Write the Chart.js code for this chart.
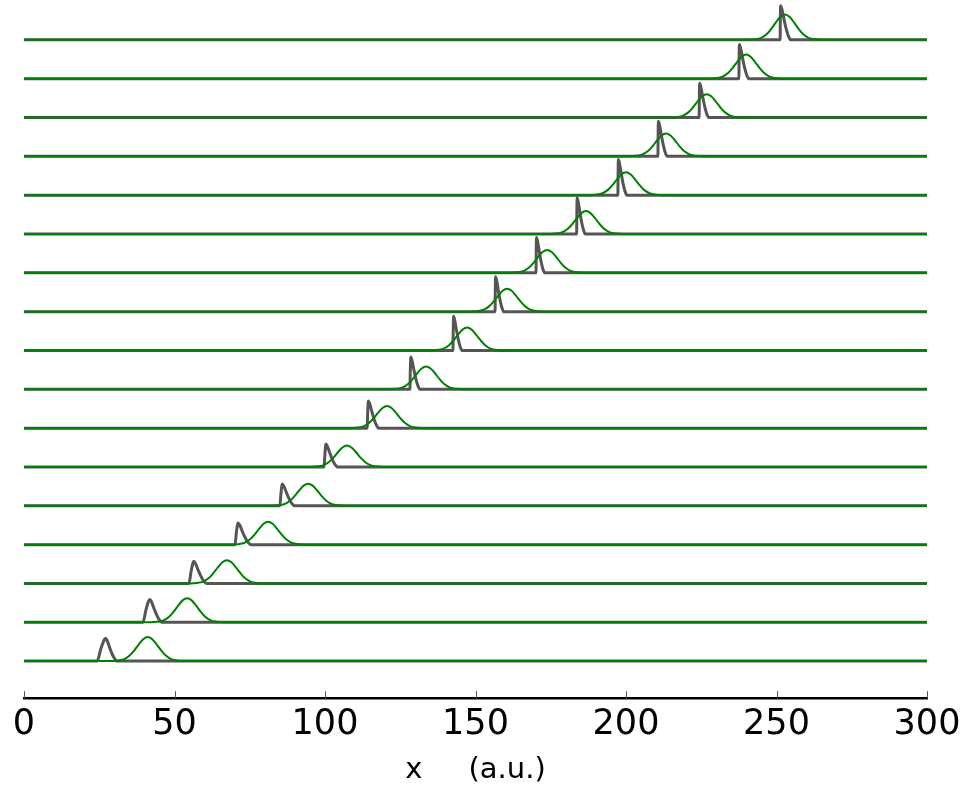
<!DOCTYPE html>
<html>
<head>
<meta charset="utf-8">
<script src="https://cdn.jsdelivr.net/npm/chart.js@4/dist/chart.umd.min.js"></script>
<style>
  body { margin: 0; background: #ffffff; }
  #wrap { width: 963px; height: 788px; }
</style>
</head>
<body>
<div id="wrap"><canvas id="traces" width="963" height="788"></canvas></div>
<script>
// Rows, bottom (0) to top (16); every row is shifted up by one unit
const rowOffsets = [0, 1, 2, 3, 4, 5, 6, 7, 8, 9, 10, 11, 12, 13, 14, 15, 16];

// Gray pulse: x where it leaves the baseline, height, rise and decay lengths (x units)
const grayStart = [24.3, 39.5, 54.8, 70.1, 85.0, 99.7, 114.0, 128.2, 142.5, 156.5, 170.1, 183.6, 197.3, 210.6, 224.3, 237.5, 251.2];
const grayHeight = [0.59, 0.59, 0.57, 0.56, 0.56, 0.59, 0.70, 0.83, 0.88, 0.90, 0.91, 0.93, 0.92, 0.90, 0.88, 0.88, 0.88];
const grayRise = [2.8, 2.3, 1.6, 1.0, 0.8, 0.6, 0.4, 0.3, 0.2, 0.15, 0.15, 0.15, 0.15, 0.15, 0.15, 0.15, 0.15];
const grayDecay = [3.8, 4.0, 4.2, 4.2, 4.0, 3.8, 3.4, 3.0, 2.8, 2.7, 2.7, 2.7, 2.8, 2.9, 3.0, 3.1, 3.3];

// Pulse profile (fraction of length, fraction of height)
const riseFrac = [0, 0.45, 0.8, 1];
const riseLevel = [0, 0.55, 0.9, 1];
const decayFrac = [0.15, 0.35, 0.55, 0.75, 0.9, 1];
const decayLevel = [0.88, 0.6, 0.34, 0.14, 0.04, 0];

// Green bump: centre and height per row
const greenCenter = [41.1, 54.2, 67.4, 81.1, 94.4, 107.3, 120.6, 133.6, 147.2, 160.5, 173.8, 186.7, 200.0, 213.3, 226.8, 239.9, 252.8];
const greenHeight = [0.62, 0.62, 0.60, 0.59, 0.57, 0.55, 0.57, 0.59, 0.59, 0.59, 0.59, 0.59, 0.59, 0.59, 0.60, 0.62, 0.65];

// Bump profile (x offset, fraction of height)
const bumpOffset = [-12, -10, -8, -6, -4.5, -3, -1.5, 0, 1.5, 3, 4.5, 6, 8, 10, 12];
const bumpLevel = [0, 0.02, 0.07, 0.23, 0.44, 0.69, 0.91, 1, 0.91, 0.69, 0.44, 0.23, 0.07, 0.02, 0];

const xTicks = [0, 50, 100, 150, 200, 250, 300];
const xTitle = 'x     (a.u.)';

function grayTrace(i) {
    const base = rowOffsets[i];
    const pts = [{ x: 0, y: base }];
    riseFrac.forEach((f, k) => {
        pts.push({ x: grayStart[i] + f * grayRise[i], y: base + riseLevel[k] * grayHeight[i] });
    });
    const peakX = grayStart[i] + grayRise[i];
    decayFrac.forEach((f, k) => {
        pts.push({ x: peakX + f * grayDecay[i], y: base + decayLevel[k] * grayHeight[i] });
    });
    pts.push({ x: 300, y: base });
    return pts;
}

function greenTrace(i) {
    const base = rowOffsets[i];
    const pts = [{ x: 0, y: base }];
    bumpOffset.forEach((d, k) => {
        pts.push({ x: greenCenter[i] + d, y: base + bumpLevel[k] * greenHeight[i] });
    });
    pts.push({ x: 300, y: base });
    return pts;
}

const datasets = [];
rowOffsets.forEach((off, i) => {
    datasets.push({
        data: greenTrace(i),
        borderColor: '#008000',
        borderWidth: 2,
        order: 0
    });
    datasets.push({
        data: grayTrace(i),
        borderColor: '#555555',
        borderWidth: 3,
        order: 1
    });
});

// Short tick marks pointing up from the x axis
const innerTicks = {
    id: 'innerTicks',
    afterDraw(chart) {
        const ctx = chart.ctx;
        const xs = chart.scales.x;
        const y0 = chart.chartArea.bottom;
        ctx.save();
        ctx.strokeStyle = '#555555';
        ctx.lineWidth = 1;
        xTicks.forEach(v => {
            const px = Math.round(xs.getPixelForValue(v)) + 0.5;
            ctx.beginPath();
            ctx.moveTo(px, y0);
            ctx.lineTo(px, y0 - 7);
            ctx.stroke();
        });
        ctx.restore();
    }
};

new Chart(document.getElementById('traces'), {
    type: 'line',
    data: { datasets: datasets },
    options: {
        responsive: false,
        animation: false,
        devicePixelRatio: 1,
        elements: {
            point: { radius: 0 },
            line: { cubicInterpolationMode: 'monotone', fill: false }
        },
        layout: { padding: { left: 24, right: 36, top: 1, bottom: 0 } },
        plugins: {
            legend: { display: false },
            tooltip: { enabled: false }
        },
        scales: {
            x: {
                type: 'linear',
                min: 0,
                max: 300,
                afterBuildTicks: axis => { axis.ticks = xTicks.map(v => ({ value: v })); },
                // let the end labels overhang into the page margin
                afterFit: axis => { axis.paddingLeft = 0; axis.paddingRight = 0; },
                grid: { display: true, drawOnChartArea: false, drawTicks: false, color: 'rgba(0,0,0,0)' },
                border: { display: true, color: '#000000', width: 2.5 },
                ticks: {
                    color: '#000000',
                    padding: 6,
                    maxRotation: 0,
                    font: { family: 'DejaVu Sans', size: 35 }
                },
                title: {
                    display: true,
                    text: xTitle,
                    color: '#000000',
                    padding: { top: 1, bottom: 0 },
                    font: { family: 'DejaVu Sans', size: 29 }
                }
            },
            y: {
                display: false,
                min: -0.955,
                max: 17
            }
        }
    },
    plugins: [innerTicks]
});
</script>
</body>
</html>
